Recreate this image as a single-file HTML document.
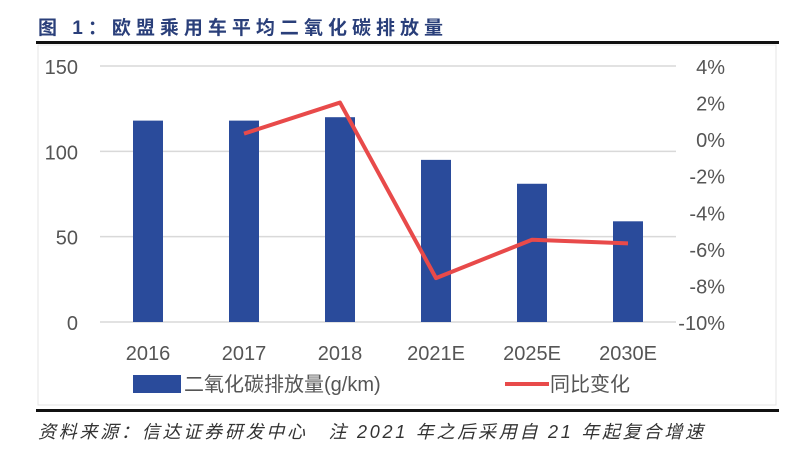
<!DOCTYPE html>
<html><head><meta charset="utf-8"><style>
body{margin:0;background:#fff;width:800px;height:449px;overflow:hidden;font-family:"Liberation Sans","Noto Sans CJK SC",sans-serif}
svg text{font-family:"Liberation Sans","Noto Sans CJK SC",sans-serif}
</style></head><body>
<svg width="800" height="449">
<text x="38" y="34" font-size="19" font-weight="bold" fill="#2a3f7a" textLength="405">图 1：欧盟乘用车平均二氧化碳排放量</text>
<rect x="36" y="41" width="743" height="3" fill="#111"/>
<rect x="38" y="45" width="738" height="360" fill="none" stroke="#e4e4e4"/>
<g id="grid"></g><g id="bars"></g><g id="line"></g><g id="axes"></g>
<rect x="133" y="375" width="48" height="18" fill="#2a4b9b"/>
<text x="184" y="391" font-size="20" fill="#555">二氧化碳排放量(g/km)</text>
<rect x="505" y="382" width="44" height="4" fill="#e84a4a"/>
<text x="550" y="391" font-size="20" fill="#555">同比变化</text>
<rect x="36" y="409" width="743" height="3" fill="#111"/>
<text x="38" y="438" font-size="18" font-style="italic" fill="#333" textLength="665">资料来源：信达证券研发中心　注 2021 年之后采用自 21 年起复合增速</text>
</svg>
<script>
const categories=["2016","2017","2018","2021E","2025E","2030E"];
const emissions=[118,118,120,95,81,59];
const yoyCats=["2017","2018","2021E","2025E","2030E"];
const yoy=[0.3,2.0,-7.6,-5.5,-5.7];
const leftTicks=[0,50,100,150];
const rightTicks=[4,2,0,-2,-4,-6,-8,-10];
const NS="http://www.w3.org/2000/svg";
const X0=100,BW=96,Y0=322,YT=66;
const xc=c=>X0+BW*(categories.indexOf(c)+0.5);
const yl=v=>Y0-(v/150)*(Y0-YT);
const yr=v=>Y0-((v+10)/14)*(Y0-YT);
function mk(t,a,p){const e=document.createElementNS(NS,t);for(const k in a)e.setAttribute(k,a[k]);document.getElementById(p).appendChild(e);return e;}
leftTicks.forEach(v=>{
 const g=mk("line",{x1:X0,x2:X0+BW*6,y1:yl(v),y2:yl(v),stroke:"#d9d9d9","stroke-width":1.5},"grid");
 
 
 const t=mk("text",{x:78,y:yl(v)+8,"text-anchor":"end","font-size":20,fill:"#555"},"axes");t.textContent=v;
 
 
});
rightTicks.forEach(v=>{
 const t=mk("text",{x:725,y:yr(v)+8,"text-anchor":"end","font-size":20,fill:"#555"},"axes");t.textContent=v+"%";
 
 
});
categories.forEach((c,i)=>{
 const r=mk("rect",{x:xc(c)-15,y:yl(emissions[i]),width:30,height:Y0-yl(emissions[i]),fill:"#2a4b9b"},"bars");
 
 
 const t=mk("text",{x:xc(c),y:360,"text-anchor":"middle","font-size":20,fill:"#555"},"axes");t.textContent=c;
 
 
});
const pts=yoyCats.map((c,i)=>xc(c)+","+yr(yoy[i])).join(" ");
const pl=mk("polyline",{points:pts,fill:"none",stroke:"#e84a4a","stroke-width":4,"stroke-linejoin":"round"},"line");


</script>
</body></html>
